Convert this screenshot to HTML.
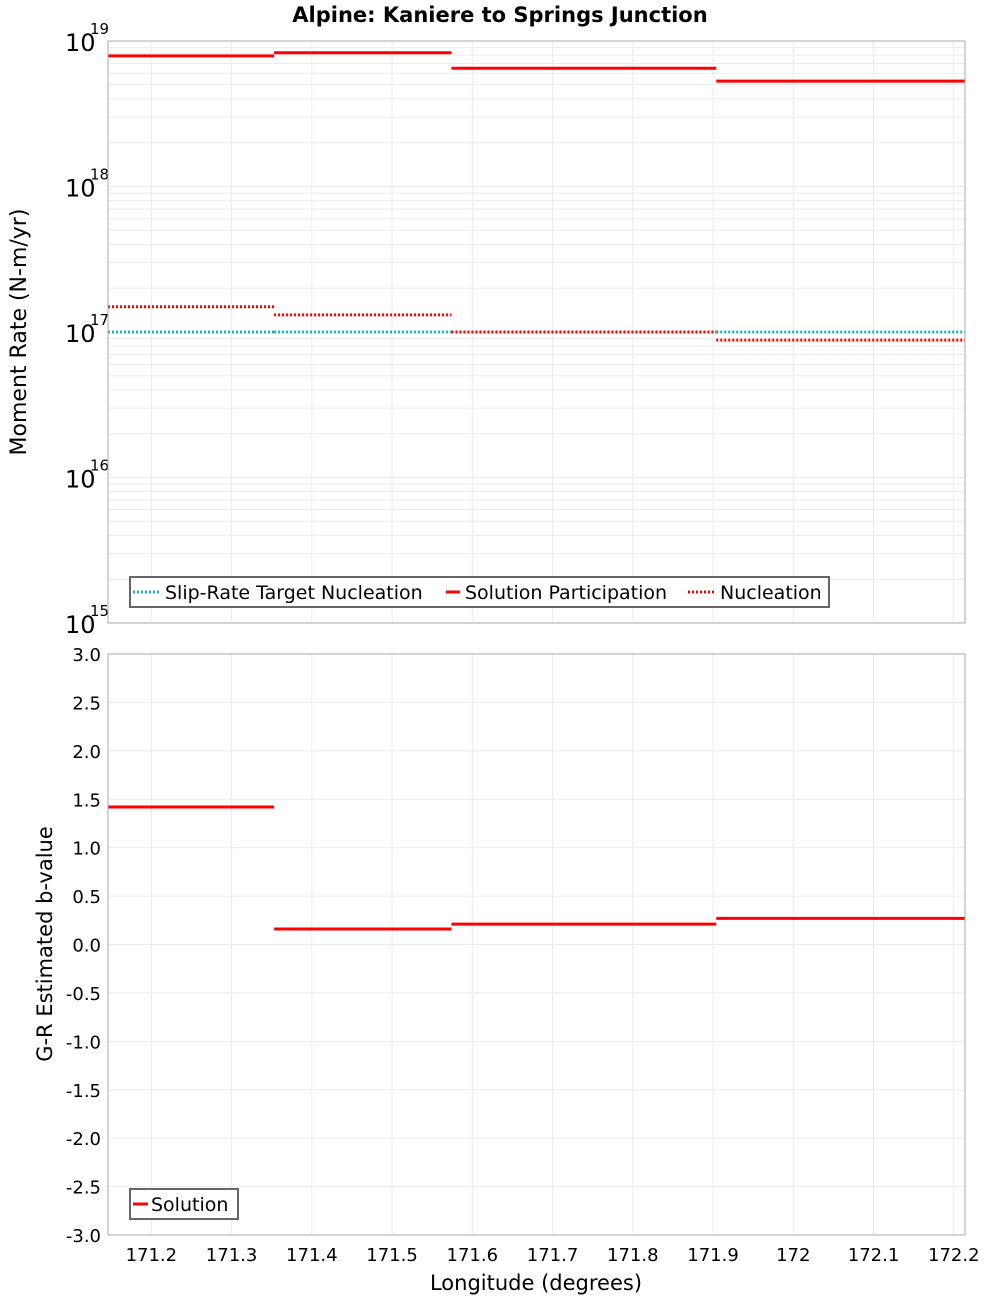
<!DOCTYPE html>
<html><head><meta charset="utf-8"><style>
body{margin:0;background:#fff;}
svg{display:block;font-family:"DejaVu Sans","Liberation Sans",sans-serif;}
</style></head><body>
<svg id="c" width="1000" height="1300" xmlns="http://www.w3.org/2000/svg">
<text x="500" y="22" text-anchor="middle" font-size="21" font-weight="bold">Alpine: Kaniere to Springs Junction</text>
<g id="topPanel"></g>
<g id="botPanel"></g>
</svg>
<script>
const bounds = [171.146, 171.353, 171.574, 171.904, 172.214];
const xTicks = [171.2, 171.3, 171.4, 171.5, 171.6, 171.7, 171.8, 171.9, 172, 172.1, 172.2];
const xTickLabels = ["171.2","171.3","171.4","171.5","171.6","171.7","171.8","171.9","172","172.1","172.2"];
const solutionPart = [7.9e18, 8.3e18, 6.5e18, 5.3e18];
const nucleation = [1.49e17, 1.31e17, 1.0e17, 8.8e16];
const targetNucl = [1e17, 1e17, 1e17, 1e17];
const bValues = [1.42, 0.16, 0.21, 0.27];
const logExps = [15, 16, 17, 18, 19];
const bTicks = [-3,-2.5,-2,-1.5,-1,-0.5,0,0.5,1,1.5,2,2.5,3];

const NS="http://www.w3.org/2000/svg";
const L=108,R=965;
const xs=v=>L+(v-171.146)/(172.214-171.146)*(R-L);
function mk(p,t,a){const e=document.createElementNS(NS,t);for(const k in a)e.setAttribute(k,a[k]);p.appendChild(e);return e;}
const topG=document.getElementById('topPanel'),botG=document.getElementById('botPanel');
const T1=41,B1=623,T2=654,B2=1235;
const ysTop=v=>B1-(Math.log10(v)-15)/4*(B1-T1);
const ysBot=v=>B2-(v+3)/6*(B2-T2);

for(let e=15;e<19;e++)for(let m=1;m<10;m++){const y=ysTop(m*Math.pow(10,e));
 const g=mk(topG,'line',{x1:L,x2:R,y1:y,y2:y,stroke:'#ebebeb','stroke-width':1});
 
 }
xTicks.forEach(v=>{for(const [p,t,b] of [[topG,T1,B1],[botG,T2,B2]]){const g=mk(p,'line',{x1:xs(v),x2:xs(v),y1:t,y2:b,stroke:'#ebebeb'});
 
 }});
bTicks.forEach(v=>{const y=ysBot(v);const g=mk(botG,'line',{x1:L,x2:R,y1:y,y2:y,stroke:'#ebebeb'});
 
 
 const t=mk(botG,'text',{x:101,y:y+7,'text-anchor':'end','font-size':18});t.textContent=v.toFixed(1);
 
 });
logExps.forEach(e=>{const y=ysTop(Math.pow(10,e));
 const t=mk(topG,'text',{x:65,y:y+10,'font-size':24});t.textContent='10';
 
 
 const s=mk(topG,'text',{x:90,y:y-7,'font-size':15});s.textContent=String(e);
 
 });

function series(p,vals,ys,color,dash,name){
 vals.forEach((v,i)=>{const y=ys(v);const a={x1:xs(bounds[i]),x2:xs(bounds[i+1]),y1:y,y2:y,stroke:color,'stroke-width':3};
  if(dash)a['stroke-dasharray']='2 2';const l=mk(p,'line',a);
  
  });
}
series(topG,targetNucl,ysTop,'#1fb5b5',true,'target-nucleation');
series(topG,solutionPart,ysTop,'#ff0000',false,'solution-participation');
series(topG,nucleation,ysTop,'#ff0000',true,'nucleation');
series(botG,bValues,ysBot,'#ff0000',false,'b-value');

for(const [p,t,b,n] of [[topG,T1,B1,'top-plot-frame'],[botG,T2,B2,'bottom-plot-frame']]){
 const r=mk(p,'rect',{x:L,y:t,width:R-L,height:b-t,fill:'none',stroke:'#aaa'});
 
 }

xTicks.forEach((v,i)=>{const t=mk(botG,'text',{x:xs(v),y:1261,'text-anchor':'middle','font-size':18});t.textContent=xTickLabels[i];
 
 });
let t=mk(botG,'text',{x:536,y:1290,'text-anchor':'middle','font-size':21});t.textContent='Longitude (degrees)';


t=mk(topG,'text',{x:0,y:0,'text-anchor':'middle','font-size':22,transform:'translate(26,332) rotate(-90)'});t.textContent='Moment Rate (N-m/yr)';


t=mk(botG,'text',{x:0,y:0,'text-anchor':'middle','font-size':21,transform:'translate(52,944) rotate(-90)'});t.textContent='G-R Estimated b-value';



let lg=mk(topG,'g',{});


mk(lg,'rect',{x:130,y:577,width:699,height:30,fill:'#fff',stroke:'#666','stroke-width':2});
const items=[[133,160,165,'#1fb5b5',true,'Slip-Rate Target Nucleation'],[446,460,465,'#ff0000',false,'Solution Participation'],[688,715,720,'#ff0000',true,'Nucleation']];
items.forEach(([a,b,tx,c,d,s])=>{const e=mk(lg,'g',{});
 
 
 const at={x1:a,x2:b,y1:592,y2:592,stroke:c,'stroke-width':3};if(d)at['stroke-dasharray']='2 2';mk(e,'line',at);
 const tt=mk(e,'text',{x:tx,y:599,'font-size':19});tt.textContent=s;});
lg=mk(botG,'g',{});


mk(lg,'rect',{x:130,y:1189,width:108,height:30,fill:'#fff',stroke:'#666','stroke-width':2});
mk(lg,'line',{x1:133,x2:148,y1:1204,y2:1204,stroke:'#ff0000','stroke-width':3});
t=mk(lg,'text',{x:151,y:1211,'font-size':19});t.textContent='Solution';


</script>
</body></html>
